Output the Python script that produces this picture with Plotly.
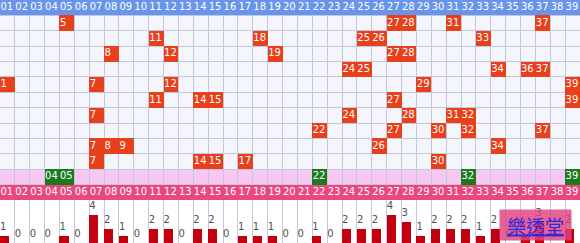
import plotly.graph_objects as go

numbers = list(range(1, 40))
header_labels = [f"{n:02d}" for n in numbers]

draws = [
    [5, 27, 28, 31, 37],
    [11, 18, 25, 26, 33],
    [8, 12, 19, 27, 28],
    [24, 25, 34, 36, 37],
    [1, 7, 12, 29, 39],
    [11, 14, 15, 27, 39],
    [7, 24, 28, 31, 32],
    [22, 27, 30, 32, 37],
    [7, 8, 9, 26, 34],
    [7, 14, 15, 17, 30],
]
special = [4, 5, 22, 32, 39]
counts = [1, 0, 0, 0, 1, 0, 4, 2, 1, 0, 2, 2, 0, 2, 2, 0, 1, 1, 1, 0,
          0, 1, 0, 2, 2, 2, 4, 3, 1, 2, 2, 2, 1, 2, 0, 1, 3, 0, 2]

W, H = 580, 243
BAR_PX = 43
NROWS = 13
PINK_ROW = len(draws) + 1
BOTTOM_ROW = len(draws) + 2

RED = "#e8401a"
GREEN = "#1b7a1b"
BLUE = "#6895ea"
PINKRED = "#ea4680"
PINK = "#f7c8f2"
GRID = "#c3c6dc"
FONT = "DejaVu Sans"

# header bands as a heatmap (covers the grid lines)
zb = [[None] * 39 for _ in range(NROWS)]
zb[0] = [0] * 39
zb[BOTTOM_ROW] = [1] * 39

# heatmap grid of drawn cells
z = [[None] * 39 for _ in range(NROWS)]
for r, d in enumerate(draws, start=1):
    for n in d:
        z[r][n - 1] = 1
for n in special:
    z[PINK_ROW][n - 1] = 2

fig = go.Figure()

fig.add_trace(go.Heatmap(
    z=zb, x=numbers, y=list(range(NROWS)),
    colorscale=[[0, BLUE], [0.5, BLUE], [0.5, PINKRED], [1, PINKRED]],
    zmin=0, zmax=1, showscale=False, hoverinfo="skip",
    xaxis="x", yaxis="y",
))

fig.add_trace(go.Heatmap(
    z=z, x=numbers, y=list(range(NROWS)),
    colorscale=[[0, RED], [0.5, RED], [0.5, GREEN], [1, GREEN]],
    zmin=1, zmax=2, showscale=False, hoverinfo="skip",
    xaxis="x", yaxis="y",
))

# texts in boxes
tx, ty, tt = [], [], []
for r, d in enumerate(draws, start=1):
    for n in d:
        tx.append(n - 0.47)
        ty.append(r)
        tt.append(str(n))
for n in special:
    tx.append(n - 0.47)
    ty.append(PINK_ROW)
    tt.append(f"{n:02d}")
fig.add_trace(go.Scatter(
    x=tx, y=ty, text=tt, mode="text", textposition="middle right",
    textfont=dict(family=FONT, size=10, color="white"),
    hoverinfo="skip", xaxis="x", yaxis="y",
))

# header labels (top and bottom)
fig.add_trace(go.Scatter(
    x=[n - 0.47 for n in numbers] * 2,
    y=[0] * 39 + [BOTTOM_ROW] * 39,
    text=header_labels * 2, mode="text", textposition="middle right",
    textfont=dict(family=FONT, size=10, color="white"),
    hoverinfo="skip", xaxis="x", yaxis="y",
))

# bars
fig.add_trace(go.Bar(
    x=numbers, y=counts, offset=-0.5, width=0.61,
    marker=dict(color="#c3000f", line=dict(width=0)),
    hoverinfo="skip", xaxis="x", yaxis="y2",
))
fig.add_trace(go.Scatter(
    x=[n - 0.5 for n in numbers], y=[c + 1.15 for c in counts],
    text=[str(c) for c in counts], mode="text", textposition="middle right",
    textfont=dict(family=FONT, size=10, color="#505050"),
    hoverinfo="skip", xaxis="x", yaxis="y2",
))

top_dom = BAR_PX / H
shapes = [
    dict(type="rect", xref="x domain", yref="y domain", x0=0, x1=1, y0=0, y1=1,
         fillcolor="#f5f6fc", line=dict(width=0), layer="below"),
    dict(type="rect", xref="x domain", yref="y", x0=0, x1=1,
         y0=PINK_ROW - 0.5, y1=PINK_ROW + 0.5,
         fillcolor=PINK, line=dict(width=0), layer="below"),
]

fig.update_layout(
    width=W, height=H, margin=dict(l=0, r=0, t=0, b=0),
    paper_bgcolor="white", plot_bgcolor="white",
    showlegend=False, bargap=0,
    xaxis=dict(range=[0.5, 39.5], domain=[0, 1], tickmode="linear", tick0=0.5, dtick=1,
               showgrid=True, gridcolor=GRID, gridwidth=1, showticklabels=False,
               ticks="", zeroline=False, showline=False, fixedrange=True),
    yaxis=dict(range=[NROWS - 0.5, -0.5], domain=[top_dom, 1], tickmode="linear",
               tick0=0.5, dtick=1, showgrid=True, gridcolor=GRID, gridwidth=1,
               showticklabels=False, ticks="", zeroline=False, showline=False,
               fixedrange=True),
    yaxis2=dict(range=[0, BAR_PX / 7.0], domain=[0, top_dom], showgrid=False,
                showticklabels=False, ticks="", zeroline=False, showline=False,
                fixedrange=True),
    shapes=shapes,
    annotations=[dict(
        text="<u>樂透堂</u>", xref="paper", yref="paper",
        x=535.5 / W, y=(H - 225) / H, xanchor="center", yanchor="middle",
        showarrow=False, width=69, height=28, borderpad=1,
        bgcolor="rgba(226,64,128,0.82)",
        font=dict(family="Noto Sans CJK TC", size=19, color="#2a2ad8"),
    )],
)

fig.write_html("out.html")
